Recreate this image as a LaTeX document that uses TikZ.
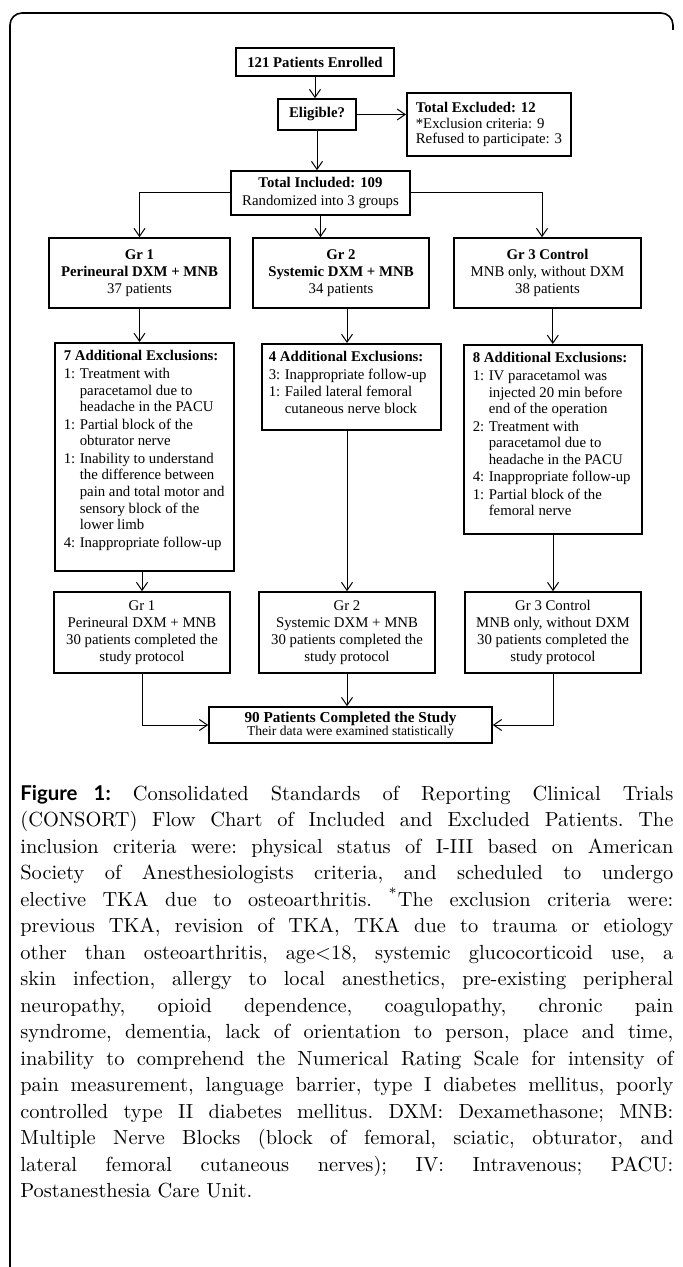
\documentclass[tikz,border=0pt]{standalone}
\usepackage{fontspec}
\usetikzlibrary{arrows.meta}

\newfontfamily\diagfont{Liberation Serif}
\newfontfamily\figfont{Lato}
\newcommand{\dfont}{\diagfont\fontsize{7.4}{8.6}\selectfont}
\newcommand{\exhead}[1]{\noindent\textbf{#1}}
\newcommand{\exitem}[2]{\par\hangindent=8pt\hangafter=1\noindent\makebox[8pt][l]{#1:}{\def\\{\hfil\break}#2}}
\newcommand{\exbody}[4]{\parbox[c][#1][t]{#2}{\raggedright\leftskip=#3\fontsize{7.4}{8.3}\selectfont\parskip=0.45pt\vspace*{3.5pt}#4}}

\tikzset{
  box/.style={draw, line width=0.8pt, inner sep=0pt, align=center, font=\dfont},
  exbox/.style={draw, line width=0.8pt, inner sep=0pt, anchor=north west, font=\dfont},
  arr/.style={-{Straight Barb[length=4pt,width=5.5pt]}, line width=0.5pt},
}

\begin{document}
\begin{tikzpicture}[x=0.5pt, y=-0.5pt]
\useasboundingbox (0,0) rectangle (683,1267);

% frame
\draw[line width=0.8pt, rounded corners=6pt] (10,1267) -- (10,13) -- (673,13) -- (673,30);

% enrolment
\node[box, minimum width=79pt, minimum height=14pt] (enrol) at (315,62) {\textbf{121 Patients Enrolled}};
\node[box, minimum width=39pt, minimum height=15.5pt] (elig) at (317,114.5) {\textbf{Eligible?}};
\node[box, align=left, anchor=west, inner xsep=4.5pt, minimum width=81.5pt, minimum height=31.5pt,
  font=\diagfont\fontsize{7.4}{7.8}\selectfont] (excl) at (406,124.5)
  {\textbf{Total Excluded: 12}\\{}*Exclusion criteria: 9\\Refused to participate: 3};
\node[box, minimum width=89.5pt, minimum height=22pt] (incl) at (320.5,193) {\textbf{Total Included: 109}\\Randomized into 3 groups};

% groups
\node[box, minimum width=90.5pt, minimum height=35pt] (gr1) at (139.5,273) {\textbf{Gr 1}\\\textbf{Perineural DXM + MNB}\\37 patients};
\node[box, minimum width=88pt, minimum height=35pt] (gr2) at (341,273) {\textbf{Gr 2}\\\textbf{Systemic DXM + MNB}\\34 patients};
\node[box, minimum width=93.5pt, minimum height=35pt] (gr3) at (547.5,273) {\textbf{Gr 3 Control}\\MNB only, without DXM\\38 patients};

% exclusions
\node[exbox] (ex1) at (54,342) {\exbody{114pt}{89.5pt}{4.5pt}{%
  \exhead{7 Additional Exclusions:}
  \exitem{1}{Treatment with\\paracetamol due to\\headache in the PACU}
  \exitem{1}{Partial block of the\\obturator nerve}
  \exitem{1}{Inability to understand\\the difference between\\pain and total motor and\\sensory block of the\\lower limb}
  \exitem{4}{Inappropriate follow-up}}};
\node[exbox] (ex2) at (261,343) {\exbody{43pt}{89.5pt}{3.5pt}{%
  \exhead{4 Additional Exclusions:}
  \exitem{3}{Inappropriate follow-up}
  \exitem{1}{Failed lateral femoral\\cutaneous nerve block}}};
\node[exbox] (ex3) at (463,344) {\exbody{94.5pt}{89pt}{4.5pt}{%
  \exhead{8 Additional Exclusions:}
  \exitem{1}{IV paracetamol was\\injected 20 min before\\end of the operation}
  \exitem{2}{Treatment with\\paracetamol due to\\headache in the PACU}
  \exitem{4}{Inappropriate follow-up}
  \exitem{1}{Partial block of the\\femoral nerve}}};

% completed
\node[box, minimum width=88pt, minimum height=40.5pt] (fin1) at (142,632.5) {Gr 1\\Perineural DXM + MNB\\30 patients completed the\\study protocol};
\node[box, minimum width=88pt, minimum height=40.5pt] (fin2) at (347,632.5) {Gr 2\\Systemic DXM + MNB\\30 patients completed the\\study protocol};
\node[box, minimum width=88pt, minimum height=40.5pt] (fin3) at (553,632.5) {Gr 3 Control\\MNB only, without DXM\\30 patients completed the\\study protocol};
\node[box, minimum width=141.5pt, minimum height=18pt, font=\diagfont\fontsize{7.6}{6.6}\selectfont] (done) at (350.5,725)
  {\textbf{90 Patients Completed the Study}\\{\fontsize{6.8}{6.6}\selectfont Their data were examined statistically}};

% connectors
\draw[arr] (enrol.south) -- (enrol.south |- elig.north);
\draw[arr] (elig.east) -- (elig.east -| excl.west);
\draw[arr] (elig.south) -- (elig.south |- incl.north);
\draw[arr] (incl.west) -| (gr1.north);
\draw[arr] (incl.south) -- (incl.south |- gr2.north);
\draw[arr] (incl.east) -| ([xshift=-2.75pt]gr3.north);
\draw[arr] (gr1.south) -- (gr1.south |- ex1.north);
\draw[arr] ([xshift=3pt]gr2.south) -- ([xshift=3pt]gr2.south |- ex2.north);
\draw[arr] (ex3.north |- gr3.south) -- (ex3.north);
\draw[arr] (fin1.north |- ex1.south) -- (fin1.north);
\draw[arr] (fin2.north |- ex2.south) -- (fin2.north);
\draw[arr] (fin3.north |- ex3.south) -- (fin3.north);
\draw[arr] (fin1.south) |- (done.west);
\draw[arr] (fin2.south) -- (fin2.south |- done.north);
\draw[arr] (fin3.south) |- (done.east);

% caption
\node[anchor=base west, inner sep=0pt] (capt) at (20,800) {\parbox[t]{326.5pt}{\fontsize{10.2}{13.25}\selectfont
\frenchspacing\tolerance=10000\hyphenpenalty=10000\exhyphenpenalty=10000
{\figfont\bfseries Figure 1:} Consolidated Standards of Reporting Clinical Trials\linebreak
(CONSORT) Flow Chart of Included and Excluded Patients. The\linebreak
inclusion criteria were: physical status of I-III based on American\linebreak
Society of Anesthesiologists criteria, and scheduled to undergo\linebreak
elective TKA due to osteoarthritis. \textsuperscript{*}The exclusion criteria were:\linebreak
previous TKA, revision of TKA, TKA due to trauma or etiology\linebreak
other than osteoarthritis, age<18, systemic glucocorticoid use, a\linebreak
skin infection, allergy to local anesthetics, pre-existing peripheral\linebreak
neuropathy, opioid dependence, coagulopathy, chronic pain\linebreak
syndrome, dementia, lack of orientation to person, place and time,\linebreak
inability to comprehend the Numerical Rating Scale for intensity of\linebreak
pain measurement, language barrier, type I diabetes mellitus, poorly\linebreak
controlled type II diabetes mellitus. DXM: Dexamethasone; MNB:\linebreak
Multiple Nerve Blocks (block of femoral, sciatic, obturator, and\linebreak
lateral femoral cutaneous nerves); IV: Intravenous; PACU:\linebreak
Postanesthesia Care Unit.}};

\end{tikzpicture}
\end{document}
